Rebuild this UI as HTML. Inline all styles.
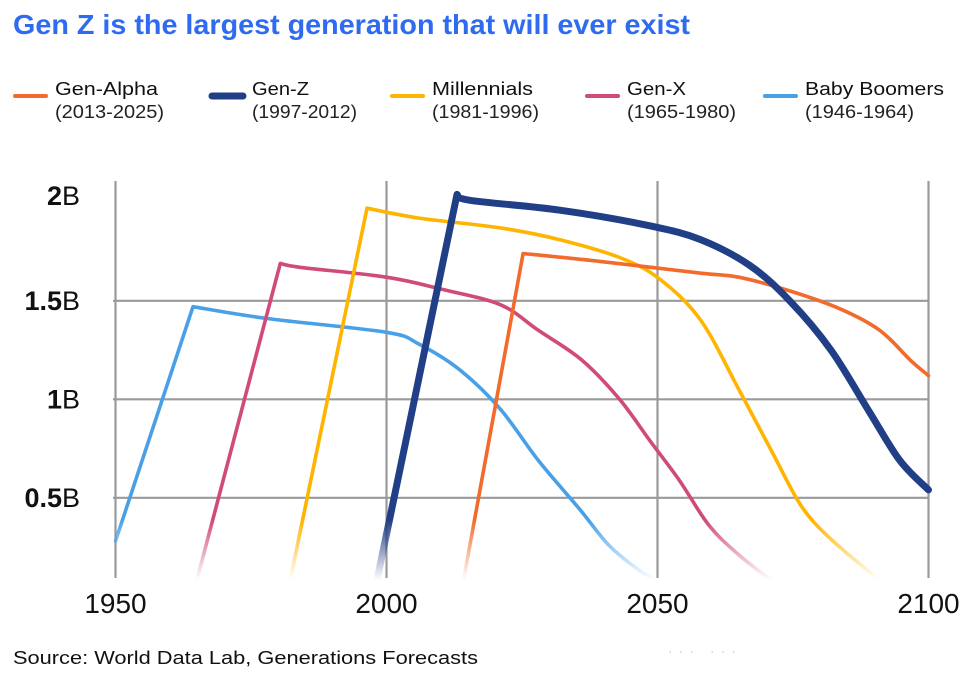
<!DOCTYPE html>
<html><head><meta charset="utf-8"><style>
body{margin:0;background:#fff;width:978px;height:683px;overflow:hidden;font-family:"Liberation Sans",sans-serif}
svg{position:absolute;left:0;top:0}
</style></head><body>
<svg width="978" height="683">
<defs>
<linearGradient id="fg" gradientUnits="userSpaceOnUse" x1="0" y1="520" x2="0" y2="580">
<stop offset="0" stop-color="#fff"/><stop offset="1" stop-color="#000"/></linearGradient>
<mask id="fade" maskUnits="userSpaceOnUse" x="0" y="0" width="978" height="683"><rect x="0" y="0" width="978" height="683" fill="url(#fg)"/></mask>
</defs>
<text x="13" y="34" font-size="28" font-weight="bold" fill="#2f6bf0" textLength="677" lengthAdjust="spacingAndGlyphs">Gen Z is the largest generation that will ever exist</text>
<g id="legend"></g>
<g id="grid"></g>
<g id="series" mask="url(#fade)"></g>
<g id="axes"></g>
<text x="13" y="664" font-size="18" fill="#111" textLength="465" lengthAdjust="spacingAndGlyphs">Source: World Data Lab, Generations Forecasts</text>
<text x="668" y="656" font-size="14" fill="#ccc" letter-spacing="6">···  ···</text>
</svg>
<script>
const xTicks=[1950,2000,2050,2100];
const yTicks=[0.5,1,1.5,2];
const yTickLabels=["0.5","1","1.5","2"];
const seriesNames=["Gen-Alpha","Gen-Z","Millennials","Gen-X","Baby Boomers"];
const seriesRanges=["(2013-2025)","(1997-2012)","(1981-1996)","(1965-1980)","(1946-1964)"];
const boomersYears=[1950,1964.3,1978,2000,2006,2013.5,2021,2028,2035.7,2041,2046.7,2050];
const boomersVals=[0.28,1.47,1.41,1.34,1.28,1.15,0.95,0.69,0.44,0.26,0.13,0.08];
const genXYears=[1964.7,1980.4,1984,2000,2010,2021,2028,2036,2043,2048.6,2054,2059.5,2065,2071];
const genXVals=[0.05,1.69,1.67,1.62,1.56,1.48,1.35,1.2,1.0,0.79,0.59,0.36,0.21,0.08];
const millYears=[1982,1996.4,2006,2021,2032,2043,2050.4,2058,2065,2071,2076.5,2082,2091];
const millVals=[0.05,1.97,1.92,1.87,1.81,1.72,1.61,1.40,1.05,0.74,0.46,0.29,0.08];
const genZYears=[1998,2013,2015.4,2032,2048.7,2058,2067,2074.4,2082,2089,2094.7,2100];
const genZVals=[0.05,2.04,2.01,1.96,1.88,1.81,1.68,1.5,1.25,0.94,0.69,0.54];
const alphaYears=[2014,2025.2,2039.4,2058,2065,2074.4,2083.6,2091,2096.6,2100];
const alphaVals=[0.05,1.74,1.7,1.64,1.62,1.55,1.46,1.35,1.2,1.12];

const NS="http://www.w3.org/2000/svg";
function xs(yr){return 115.5+(yr-1950)*5.42;}
function ys(v){return 596.3-197*v;}
function mk(tag,attrs,parent){const e=document.createElementNS(NS,tag);for(const k in attrs)e.setAttribute(k,attrs[k]);parent.appendChild(e);return e;}
const grid=document.getElementById('grid'),axes=document.getElementById('axes'),ser=document.getElementById('series'),leg=document.getElementById('legend');
xTicks.forEach(t=>{
  const l=mk('line',{x1:xs(t),x2:xs(t),y1:181,y2:578,stroke:'#9a9a9a','stroke-width':2.2},grid);
  
  
  const tx=mk('text',{x:xs(t),y:613,'font-size':28,'text-anchor':'middle',fill:'#111'},axes);
  tx.textContent=t;
  
  
});
yTicks.forEach((t,i)=>{
  if(t<2){const l=mk('line',{x1:113,x2:928,y1:ys(t),y2:ys(t),stroke:'#9a9a9a','stroke-width':2.2},grid);
  
  }
  const tx=mk('text',{x:80,y:(t===2?196:ys(t))+9,'font-size':27,'text-anchor':'end',fill:'#111'},axes);
  const b=mk('tspan',{'font-weight':'bold'},tx);b.textContent=yTickLabels[i];
  const u=mk('tspan',{},tx);u.textContent='B';
  
  
});
const S=[
 {n:'baby-boomers',yr:boomersYears,v:boomersVals,c:'#4aa0e6',w:3.6},
 {n:'gen-x',yr:genXYears,v:genXVals,c:'#d04a7a',w:3.6},
 {n:'millennials',yr:millYears,v:millVals,c:'#ffb400',w:3.6},
 {n:'gen-alpha',yr:alphaYears,v:alphaVals,c:'#f26b2c',w:3.6},
 {n:'gen-z',yr:genZYears,v:genZVals,c:'#213f86',w:7}
];
S.forEach(s=>{
  const P=s.yr.map((y,i)=>[xs(y),ys(s.v[i])]);
  let d='M'+P[0][0].toFixed(1)+','+P[0][1].toFixed(1)+' L'+P[1][0].toFixed(1)+','+P[1][1].toFixed(1);
  for(let i=1;i<P.length-1;i++){
    const p0=P[Math.max(1,i-1)],p1=P[i],p2=P[i+1],p3=P[Math.min(P.length-1,i+2)];
    const c1=[p1[0]+(p2[0]-p0[0])/6,p1[1]+(p2[1]-p0[1])/6];
    const c2=[p2[0]-(p3[0]-p1[0])/6,p2[1]-(p3[1]-p1[1])/6];
    d+=' C'+c1[0].toFixed(1)+','+c1[1].toFixed(1)+' '+c2[0].toFixed(1)+','+c2[1].toFixed(1)+' '+p2[0].toFixed(1)+','+p2[1].toFixed(1);
  }
  const p=mk('path',{d:d,fill:'none',stroke:s.c,'stroke-width':s.w,'stroke-linejoin':'round','stroke-linecap':'round'},ser);
  
  
});
const legCol=['#f26b2c','#213f86','#ffb400','#d04a7a','#4aa0e6'];
const legX=[13,210,390,585,763];
const legW1=[103,57,101,59,139];
const legW2=[109,105,107,109,109];
seriesNames.forEach((n,i)=>{
  const g=mk('g',{},leg);
  
  
  mk('line',{x1:legX[i]+2,x2:legX[i]+33,y1:96,y2:96,stroke:legCol[i],'stroke-width':i===1?7:4,'stroke-linecap':'round'},g);
  const t1=mk('text',{x:legX[i]+42,y:95,'font-size':18,fill:'#111',textLength:legW1[i],lengthAdjust:'spacingAndGlyphs'},g);t1.textContent=n;
  const t2=mk('text',{x:legX[i]+42,y:118,'font-size':18,fill:'#222',textLength:legW2[i],lengthAdjust:'spacingAndGlyphs'},g);t2.textContent=seriesRanges[i];
});
</script>
</body></html>
